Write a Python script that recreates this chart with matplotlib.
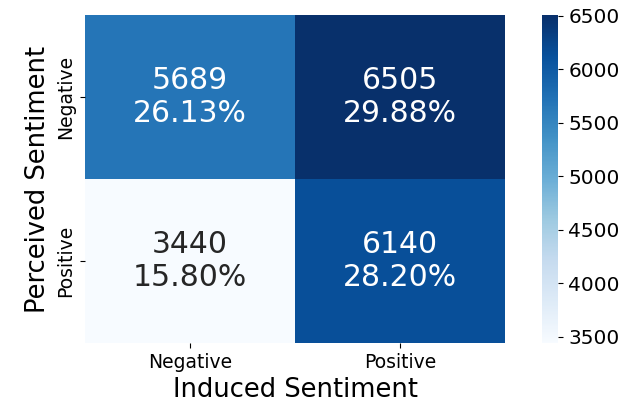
import numpy as np
import matplotlib
matplotlib.use("Agg")
import matplotlib.pyplot as plt
import seaborn as sns

# confusion matrix: rows = perceived, cols = induced
labels = ["Negative", "Positive"]
counts = np.array([[5689, 6505],
                   [3440, 6140]])
percents = ["26.13%", "29.88%", "15.80%", "28.20%"]

annot = np.array([f"{c}\n{p}" for c, p in zip(counts.flatten(), percents)]).reshape(2, 2)

fig = plt.figure(figsize=(6.36, 4.07), dpi=100)
ax = fig.add_axes([0.134, 0.157, 0.66, 0.806])
cax = fig.add_axes([0.852, 0.157, 0.026, 0.806])

sns.heatmap(counts, annot=annot, fmt="", cmap="Blues", ax=ax, cbar_ax=cax,
            annot_kws={"size": 21.5}, xticklabels=labels, yticklabels=labels)

ax.set_xlabel("Induced Sentiment", fontsize=18.5)
ax.set_ylabel("Perceived Sentiment", fontsize=18.5)
ax.tick_params(axis="both", labelsize=13.5)
cax.tick_params(labelsize=14.5)
cax.set_yticks([3500, 4000, 4500, 5000, 5500, 6000, 6500])

fig.savefig("out.png", dpi=100)
